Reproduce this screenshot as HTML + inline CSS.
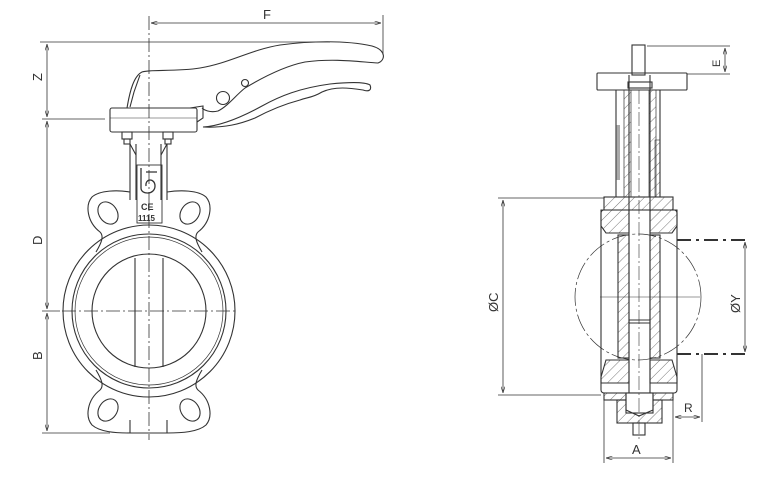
<!DOCTYPE html>
<html><head><meta charset="utf-8"><style>
html,body{margin:0;padding:0;background:#fff;}
svg{display:block;}
text{font-family:"Liberation Sans",sans-serif;fill:#333;}
</style></head><body>
<svg width="780" height="480" viewBox="0 0 780 480" xmlns="http://www.w3.org/2000/svg">
<defs>
<pattern id="h" width="7" height="7" patternUnits="userSpaceOnUse" patternTransform="rotate(45)">
<line x1="0" y1="0" x2="0" y2="7" stroke="#555" stroke-width="0.8"/>
</pattern>
<marker id="a" viewBox="0 0 10 6" refX="10" refY="3" markerWidth="8" markerHeight="5" orient="auto-start-reverse">
<path d="M0,0 L10,3 L0,6" fill="none" stroke="#333" stroke-width="1"/>
</marker>
</defs>
<g fill="none" stroke="#333" stroke-width="1.1">
<!-- LEFT VIEW -->
<!-- dimensions -->
<line x1="149" y1="16" x2="149" y2="440" stroke-dasharray="14,3,2,3" stroke-width="0.8"/>
<line x1="383" y1="15" x2="383" y2="55" stroke-width="0.8"/>
<line x1="151" y1="23" x2="381" y2="23" stroke-width="0.8" marker-start="url(#a)" marker-end="url(#a)"/>
<text x="263" y="19" font-size="13" stroke="none">F</text>
<line x1="40" y1="42" x2="330" y2="42" stroke-width="0.8"/>
<line x1="42" y1="119" x2="105" y2="119" stroke-width="0.8"/>
<line x1="47" y1="44" x2="47" y2="117" stroke-width="0.8" marker-start="url(#a)" marker-end="url(#a)"/>
<line x1="47" y1="121" x2="47" y2="309" stroke-width="0.8" marker-start="url(#a)" marker-end="url(#a)"/>
<line x1="47" y1="313" x2="47" y2="431" stroke-width="0.8" marker-start="url(#a)" marker-end="url(#a)"/>
<line x1="42" y1="311" x2="60" y2="311" stroke-width="0.8"/>
<line x1="42" y1="433" x2="110" y2="433" stroke-width="0.8"/>
<text x="0" y="0" font-size="13" stroke="none" transform="translate(42,81) rotate(-90)">Z</text>
<text x="0" y="0" font-size="13" stroke="none" transform="translate(42,245) rotate(-90)">D</text>
<text x="0" y="0" font-size="13" stroke="none" transform="translate(42,360) rotate(-90)">B</text>
<!-- handle -->
<path d="M127,108 C130,90 134,76 142,72 C150,69 175,72 200,68 C230,63 250,50 280,45 C310,41 345,40 372,46 C386,50 386,60 378,63 C360,62 335,58 305,62 C285,66 265,76 245,88 C235,96 228,106 218,111 C210,113 204,110 202,108"/>
<path d="M203,127 C220,126 240,118 262,106 C280,96 300,88 330,84 C350,82 365,82 370,85 C372,90 369,92 363,90 C350,88 335,86 322,92 C312,98 308,97 300,100 C285,104 270,110 255,118 C240,124 225,128 203,127 Z"/>
<path d="M130,107 L134,92 L140,75"/>
<circle cx="223" cy="98" r="6.5"/>
<circle cx="245" cy="83" r="3.5"/>
<rect x="110" y="108" width="87" height="24" rx="2"/>
<line x1="110" y1="118" x2="197" y2="118" stroke-width="0.6"/>
<path d="M190,108 L203,106 L203,118 L197,122"/>
<!-- bolts -->
<rect x="122" y="132" width="10" height="7"/><rect x="124" y="139" width="6" height="5"/>
<rect x="163" y="132" width="10" height="7"/><rect x="165" y="139" width="6" height="5"/>
<!-- neck -->
<path d="M130,144 L130,200 M167,144 L167,200 M136,144 L136,200 M161,144 L161,200"/>
<path d="M130,144 L136,155 M167,144 L161,155"/>
<rect x="137" y="165" width="25" height="58" stroke-width="0.9"/>
<path d="M141,168 L141,188 C141,195 155,195 155,186 C155,178 145,178 146,186 M146,172 L157,172" stroke-width="1.3"/>
<text x="141" y="210" font-size="9" stroke="none" font-weight="bold">CE</text>
<text x="138" y="221" font-size="8" stroke="none" font-weight="bold">1115</text>
<!-- body outline with lugs -->
<path d="M130,192 C118,190 100,190 92,197 C85,205 87,222 100,232 C104,236 102,242 96,252 M167,192 C180,190 198,190 206,197 C213,205 211,222 198,232 C194,236 196,242 202,252"/>
<path d="M96,370 C102,380 104,386 100,390 C87,400 85,417 92,425 C100,432 115,433 130,433 L167,433 C182,433 198,432 206,425 C213,417 211,400 198,390 C194,386 196,380 202,370"/>
<path d="M130,420 L130,433 M167,420 L167,433"/>
<ellipse cx="108" cy="213" rx="9" ry="12" transform="rotate(-35 108 213)"/>
<ellipse cx="190" cy="213" rx="9" ry="12" transform="rotate(35 190 213)"/>
<ellipse cx="108" cy="410" rx="9" ry="12" transform="rotate(35 108 410)"/>
<ellipse cx="190" cy="410" rx="9" ry="12" transform="rotate(-35 190 410)"/>
<circle cx="149" cy="311" r="86"/>
<circle cx="149" cy="311" r="77"/>
<circle cx="149" cy="311" r="74" stroke-width="0.7"/>
<circle cx="149" cy="311" r="57"/>
<path d="M135,258 L135,367 M163,258 L163,367"/>
<line x1="62" y1="311" x2="238" y2="311" stroke-dasharray="14,3,2,3" stroke-width="0.8"/>

<!-- RIGHT VIEW -->
<!-- stem -->
<rect x="632" y="45" width="13" height="30"/>
<rect x="597" y="73" width="90" height="17" rx="1"/>
<path d="M616,90 L616,197 M660,90 L660,197"/>
<rect x="624" y="90" width="7" height="107" fill="url(#h)" stroke-width="0.7"/>
<rect x="649" y="90" width="7" height="107" fill="url(#h)" stroke-width="0.7"/>
<rect x="655" y="140" width="5" height="57" fill="url(#h)" stroke-width="0.6"/>
<rect x="616" y="125" width="4" height="55" fill="#555" stroke="none" opacity="0.5"/>
<rect x="604" y="197" width="69" height="13" fill="url(#h)"/>
<line x1="629" y1="75" x2="629" y2="400"/>
<line x1="650" y1="75" x2="650" y2="400"/>
<rect x="628" y="82" width="24" height="6"/>
<!-- body -->
<rect x="601" y="210" width="76" height="183" rx="3"/>
<path d="M601,210 L629,210 L629,233 L606,233 L601,226 Z" fill="url(#h)"/>
<path d="M650,210 L677,210 L677,226 L672,233 L650,233 Z" fill="url(#h)"/>
<path d="M601,377 L606,360 L629,360 L629,383 L601,383 Z" fill="url(#h)"/>
<path d="M650,360 L672,360 L677,377 L677,383 L650,383 Z" fill="url(#h)"/>
<rect x="618" y="235" width="11" height="123" fill="url(#h)"/>
<rect x="650" y="235" width="10" height="123" fill="url(#h)"/>
<line x1="629" y1="320" x2="650" y2="320"/>
<line x1="629" y1="323" x2="650" y2="323"/>
<!-- bottom -->
<rect x="604" y="393" width="69" height="7" fill="url(#h)"/>
<rect x="617" y="400" width="45" height="23" fill="url(#h)"/>
<rect x="626" y="393" width="27" height="20" fill="#fff"/>
<path d="M626,393 L626,410 L639,416 L653,410 L653,393"/>
<rect x="633" y="423" width="12" height="12"/>
<!-- dashed circle -->
<circle cx="638" cy="297" r="63" stroke-width="0.7" stroke-dasharray="18,3,3,3"/>
<line x1="600" y1="297" x2="700" y2="297" stroke-width="0.6"/>
<line x1="639" y1="90" x2="639" y2="440" stroke-width="0.6" stroke-dasharray="14,3,2,3"/>
<!-- dims -->
<line x1="498" y1="198" x2="604" y2="198" stroke-width="0.8"/>
<line x1="498" y1="395" x2="601" y2="395" stroke-width="0.8"/>
<line x1="503" y1="200" x2="503" y2="393" stroke-width="0.8" marker-start="url(#a)" marker-end="url(#a)"/>
<text x="0" y="0" font-size="13" stroke="none" transform="translate(498,312) rotate(-90)">ØC</text>
<line x1="677" y1="240" x2="750" y2="240" stroke-width="2" stroke-dasharray="14,5,3,5"/>
<line x1="677" y1="354" x2="750" y2="354" stroke-width="2" stroke-dasharray="14,5,3,5"/>
<line x1="745" y1="242" x2="745" y2="352" stroke-width="0.8" marker-start="url(#a)" marker-end="url(#a)"/>
<text x="0" y="0" font-size="13" stroke="none" transform="translate(740,313) rotate(-90)">ØY</text>
<line x1="647" y1="46" x2="730" y2="46" stroke-width="0.8"/>
<line x1="687" y1="74" x2="730" y2="74" stroke-width="0.8"/>
<line x1="725" y1="48" x2="725" y2="72" stroke-width="0.8" marker-start="url(#a)" marker-end="url(#a)"/>
<text x="0" y="0" font-size="11" stroke="none" transform="translate(720,67) rotate(-90)">E</text>
<line x1="702" y1="354" x2="702" y2="422" stroke-width="0.8"/>
<line x1="675" y1="417" x2="700" y2="417" stroke-width="0.8" marker-end="url(#a)" marker-start="url(#a)"/>
<text x="684" y="412" font-size="12" stroke="none">R</text>
<line x1="604" y1="400" x2="604" y2="463" stroke-width="0.8"/>
<line x1="673" y1="400" x2="673" y2="463" stroke-width="0.8"/>
<line x1="606" y1="458" x2="671" y2="458" stroke-width="0.8" marker-start="url(#a)" marker-end="url(#a)"/>
<text x="632" y="454" font-size="13" stroke="none">A</text>
</g>
</svg>
</body></html>
